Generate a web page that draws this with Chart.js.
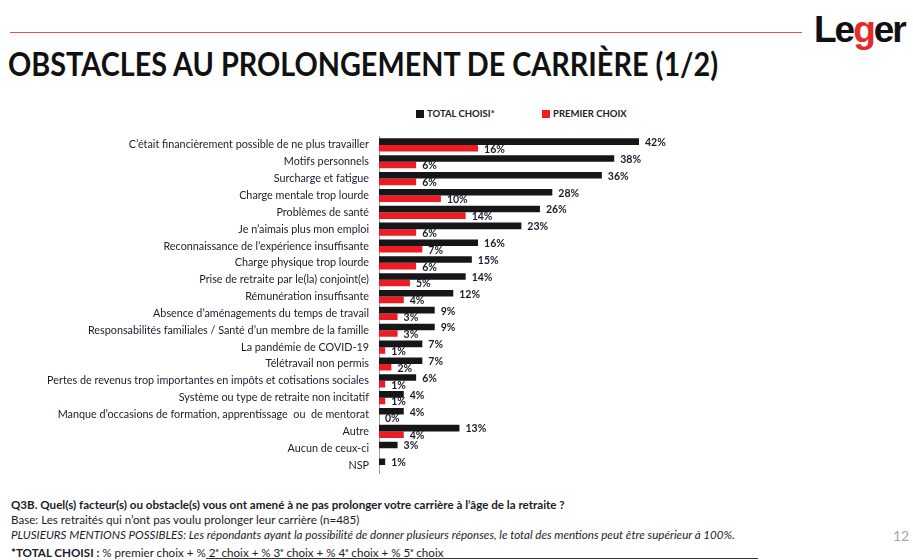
<!DOCTYPE html>
<html lang="fr">
<head>
<meta charset="utf-8">
<script src="https://cdn.jsdelivr.net/npm/chart.js@4.4.0/dist/chart.umd.min.js"></script>
<style>
  html, body { margin: 0; padding: 0; background: #fff; overflow: hidden; }
  body { width: 913px; height: 560px; position: relative; font-family: Lato, "Open Sans", sans-serif; color: #1b1b2b; }
  .ligne-rouge { position: absolute; left: 10px; top: 32px; width: 792px; height: 1px; background: #e4524c; }
  .logo { position: absolute; left: 814px; top: 9px; font: bold 37px "Liberation Sans", Arial, sans-serif; letter-spacing: -2px; color: #111; }
  .logo span { color: #e42a2a; }
  .titre { position: absolute; left: 8px; top: 44px; font: bold 32px Lato, sans-serif; color: #111; white-space: nowrap; transform: scaleX(0.9); transform-origin: left top; }
  .legende { position: absolute; top: 108px; font: bold 9.5px Lato, sans-serif; color: #222; white-space: nowrap; }
  .legende i { display: inline-block; width: 8px; height: 8px; margin-right: 3px; vertical-align: -1px; }
  #graphique { position: absolute; left: 0; top: 120px; }
  .notes { position: absolute; left: 11px; top: 497px; font-size: 11.6px; line-height: 15px; color: #1b1b2b; white-space: nowrap; }
  .notes sup { font-size: 6px; }
  .page { position: absolute; left: 893px; top: 527px; font-size: 14px; color: #a6a6a6; }
  .trait-bas { position: absolute; left: 206px; top: 558px; width: 552px; height: 1px; background: #333; }
</style>
</head>
<body>
<div class="ligne-rouge"></div>
<div class="logo">Le<span>g</span>er</div>
<div class="titre">OBSTACLES AU PROLONGEMENT DE CARRIÈRE (1/2)</div>
<div class="legende" style="left:416px"><i style="background:#161616"></i>TOTAL CHOISI*</div>
<div class="legende" style="left:542px"><i style="background:#ed1c24"></i>PREMIER CHOIX</div>
<canvas id="graphique" width="913" height="370"></canvas>
<div class="notes">
  <b>Q3B. Quel(s) facteur(s) ou obstacle(s) vous ont amené à ne pas prolonger votre carrière à l’âge de la retraite ?</b><br>
  Base: Les retraités qui n’ont pas voulu prolonger leur carrière (n=485)<br>
  <i>PLUSIEURS MENTIONS POSSIBLES: Les répondants ayant la possibilité de donner plusieurs réponses, le total des mentions peut être supérieur à 100%.</i><br>
  <b>*TOTAL CHOISI :</b> % premier choix + % 2<sup>e</sup> choix + % 3<sup>e</sup> choix + % 4<sup>e</sup> choix + % 5<sup>e</sup> choix
</div>
<div class="page">12</div>
<div class="trait-bas"></div>
<script>
const categories = [
  "C’était financièrement possible de ne plus travailler",
  "Motifs personnels",
  "Surcharge et fatigue",
  "Charge mentale trop lourde",
  "Problèmes de santé",
  "Je n’aimais plus mon emploi",
  "Reconnaissance de l’expérience insuffisante",
  "Charge physique trop lourde",
  "Prise de retraite par le(la) conjoint(e)",
  "Rémunération insuffisante",
  "Absence d’aménagements du temps de travail",
  "Responsabilités familiales / Santé d’un membre de la famille",
  "La pandémie de COVID-19",
  "Télétravail non permis",
  "Pertes de revenus trop importantes en impôts et cotisations sociales",
  "Système ou type de retraite non incitatif",
  "Manque d’occasions de formation, apprentissage  ou  de mentorat",
  "Autre",
  "Aucun de ceux-ci",
  "NSP",
];
const totalChoisi = [42, 38, 36, 28, 26, 23, 16, 15, 14, 12, 9, 9, 7, 7, 6, 4, 4, 13, 3, 1];
const premierChoix = [16, 6, 6, 10, 14, 6, 7, 6, 5, 4, 3, 3, 1, 2, 1, 1, 0, 4, null, null];

const couleurTexte = "#1b1b2b";

// etiquettes de valeur au bout de chaque barre
const pluginEtiquettes = {
  id: "etiquettes",
  afterDatasetsDraw(chart) {
    const ctx = chart.ctx;
    ctx.save();
    ctx.font = "bold 10.5px Lato";
    ctx.fillStyle = couleurTexte;
    ctx.textBaseline = "middle";
    chart.data.datasets.forEach((serie, i) => {
      chart.getDatasetMeta(i).data.forEach((barre, j) => {
        const valeur = serie.data[j];
        if (valeur == null) return;
        ctx.fillText(`${valeur}%`, barre.x + 6, barre.y + 1);
      });
    });
    ctx.restore();
  },
};

function dessiner() {
  new Chart(document.querySelector("#graphique"), {
    type: "bar",
    data: {
      labels: categories,
      datasets: [
        { label: "TOTAL CHOISI*", data: totalChoisi, backgroundColor: "#161616" },
        { label: "PREMIER CHOIX", data: premierChoix, backgroundColor: "#ed1c24" },
      ],
    },
    options: {
      indexAxis: "y",
      responsive: false,
      animation: false,
      categoryPercentage: 0.78,
      barPercentage: 1,
      layout: { padding: { left: 0, right: 224.5, top: 7, bottom: 5 } },
      plugins: { legend: { display: false }, tooltip: { enabled: false } },
      scales: {
        x: { display: false, min: 0, max: 50 },
        y: {
          grid: { display: false, drawTicks: false },
          border: { display: true, color: "#a0a0a0", width: 1 },
          ticks: { color: couleurTexte, padding: 10, font: { family: "Lato", size: 10.8 } },
          afterFit: (echelle) => { echelle.width = 379; },
        },
      },
    },
    plugins: [pluginEtiquettes],
  });
}

document.fonts.load("10px Lato").then(dessiner, dessiner);
</script>
</body>
</html>
